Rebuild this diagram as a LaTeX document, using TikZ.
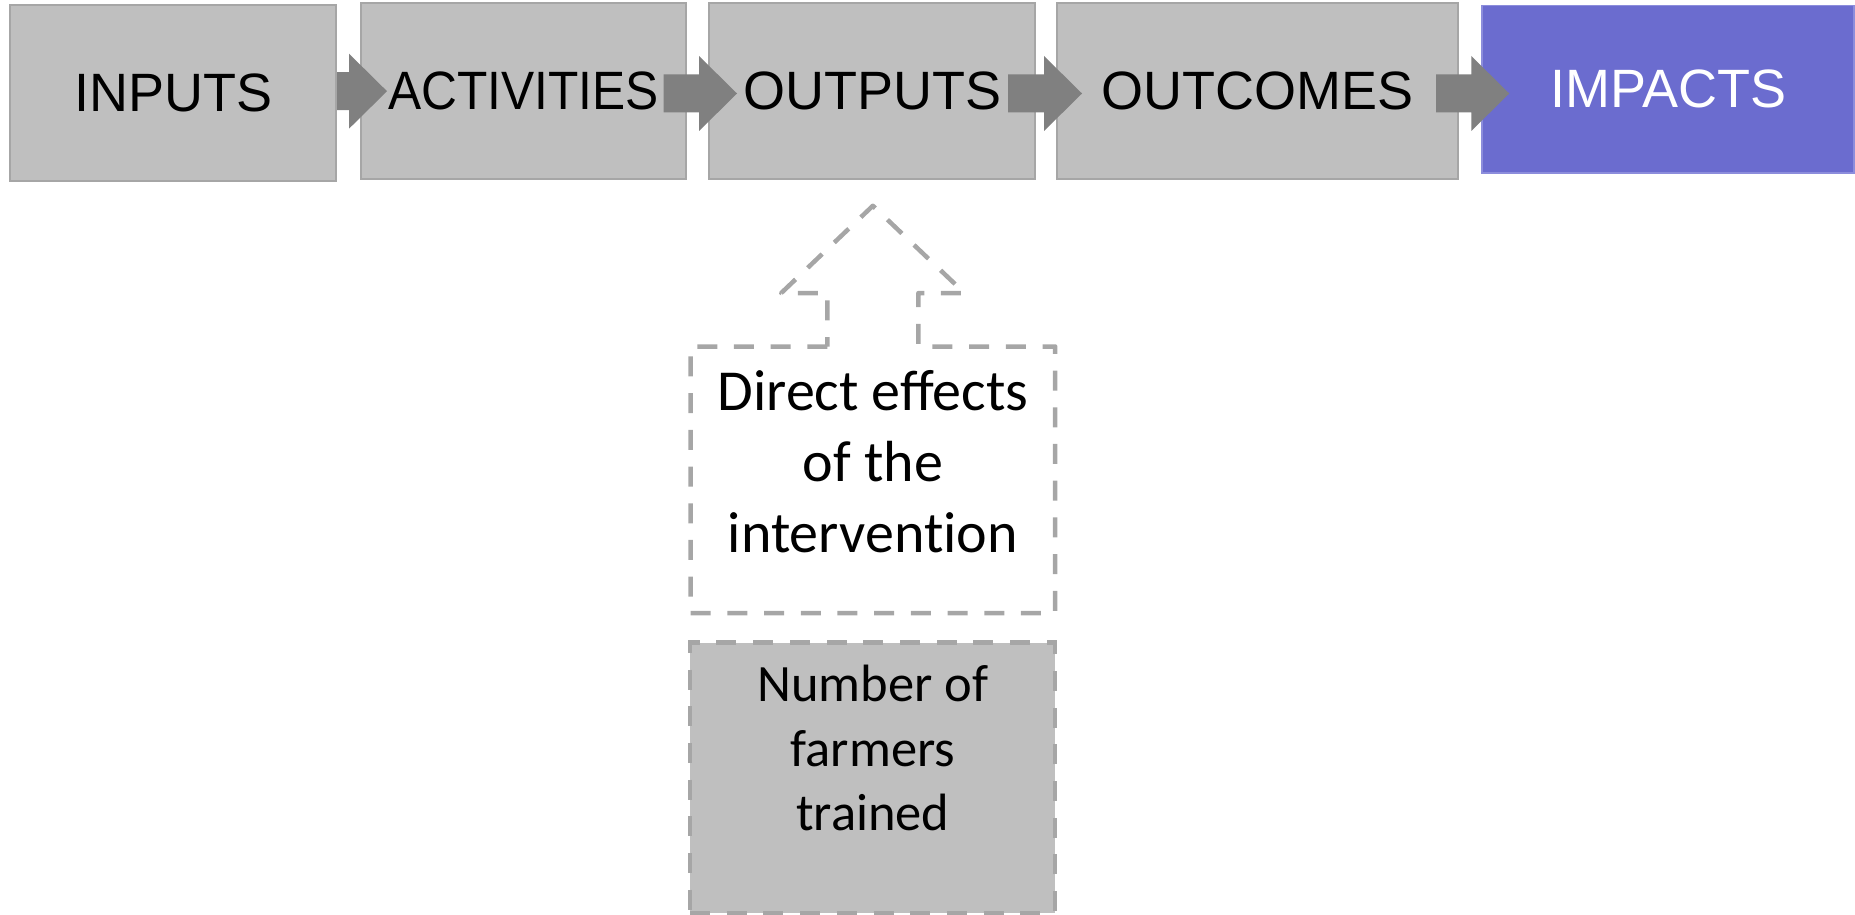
\documentclass[tikz,border=0pt]{standalone}
\usepackage{fontspec}
\usetikzlibrary{calc}
\newfontfamily\boxsans{Liberation Sans}
\newfontfamily\boxsansn[FakeStretch=0.92]{Liberation Sans}
\newfontfamily\calib{Carlito}
\definecolor{boxgray}{RGB}{191,191,191}
\definecolor{edgegray}{RGB}{166,166,166}
\definecolor{arrowgray}{RGB}{128,128,128}
\definecolor{impblue}{RGB}{107,108,207}
\definecolor{impedge}{RGB}{140,141,220}
\tikzset{
  stage/.style={rectangle, fill=boxgray, draw=edgegray, line width=2pt, inner sep=0pt,
    font=\boxsans\fontsize{54}{64}\selectfont, text=black},
  dashline/.style={draw=edgegray, line width=4.5pt, dash pattern=on 20pt off 16.7pt},
  arrowfill/.style={fill=arrowgray},
  bodytext/.style={align=center, inner sep=0pt, text=black, anchor=north}
}
\newcommand\BlockArrow[2]{%
  \fill[arrowfill] let \p1=(#1), \p2=(#2) in
  (\x1,\y2+19pt) -- (\x2-38pt,\y2+19pt) -- (\x2-38pt,\y2+37.5pt) -- (\x2,\y2)
  -- (\x2-38pt,\y2-37.5pt) -- (\x2-38pt,\y2-19pt) -- (\x1,\y2-19pt) -- cycle;}
\begin{document}
\begin{tikzpicture}[x=1pt,y=-1pt]
\useasboundingbox (0,0) rectangle (1855,915);
% stages
\node[stage, minimum width=325.6pt, minimum height=175.5pt] (inputs) at (173.2,93.2) {INPUTS};
\node[stage, minimum width=325pt, minimum height=175.6pt, font=\boxsansn\fontsize{54}{64}\selectfont] (act) at (523.5,91.2) {ACTIVITIES};
\node[stage, minimum width=326pt, minimum height=175.6pt] (out) at (872,91.2) {OUTPUTS};
\node[stage, minimum width=401pt, minimum height=175.6pt] (outc) at (1257.5,91.2) {OUTCOMES};
\node[stage, fill=impblue, draw=impedge, line width=1.5pt, text=white, minimum width=372pt, minimum height=167.7pt] (imp) at (1668,89.2) {IMPACTS};
% block arrows
\BlockArrow{inputs.east}{[xshift=27pt]act.west}
\BlockArrow{[xshift=-23.4pt]act.east}{[xshift=29pt,yshift=-2.3pt]out.west}
\BlockArrow{[xshift=-28pt]out.east}{[xshift=26pt,yshift=-2.3pt]outc.west}
\BlockArrow{[xshift=-23pt]outc.east}{[xshift=28pt,yshift=-4.3pt]imp.west}
% callout
\node[rectangle, inner sep=0pt, minimum width=364.3pt, minimum height=266.3pt] (dirbox) at (872.85,479.85) {};
\draw[dashline, line join=round]
  ([xshift=-45.5pt]dirbox.north) -- (dirbox.north west) -- (dirbox.south west)
  -- (dirbox.south east) -- (dirbox.north east) -- ([xshift=45.5pt]dirbox.north)
  -- ++(0,-53.4) -- ++(46.2,0) -- ($(dirbox.north)+(0,-140.7)$)
  -- ([xshift=-91.7pt,yshift=53.4pt]dirbox.north) -- ++(46.2,0) -- cycle;
\node[bodytext, font=\calib\fontsize{58}{71}\selectfont] (direct) at (872.9,364) {\rule{0pt}{46pt}Direct effects\\of the\\intervent\kern0pt ion};
% number box
\node[rectangle, inner sep=0pt, fill=boxgray, dashline, minimum width=365pt, minimum height=270.6pt] (farmbox) at (872.5,777.8) {};
\node[bodytext, font=\calib\fontsize{52.5}{64.3}\selectfont] (farmtext) at (872.9,660.1) {\rule{0pt}{41.6pt}Number of\\farmers\\trained};
\end{tikzpicture}
\end{document}
